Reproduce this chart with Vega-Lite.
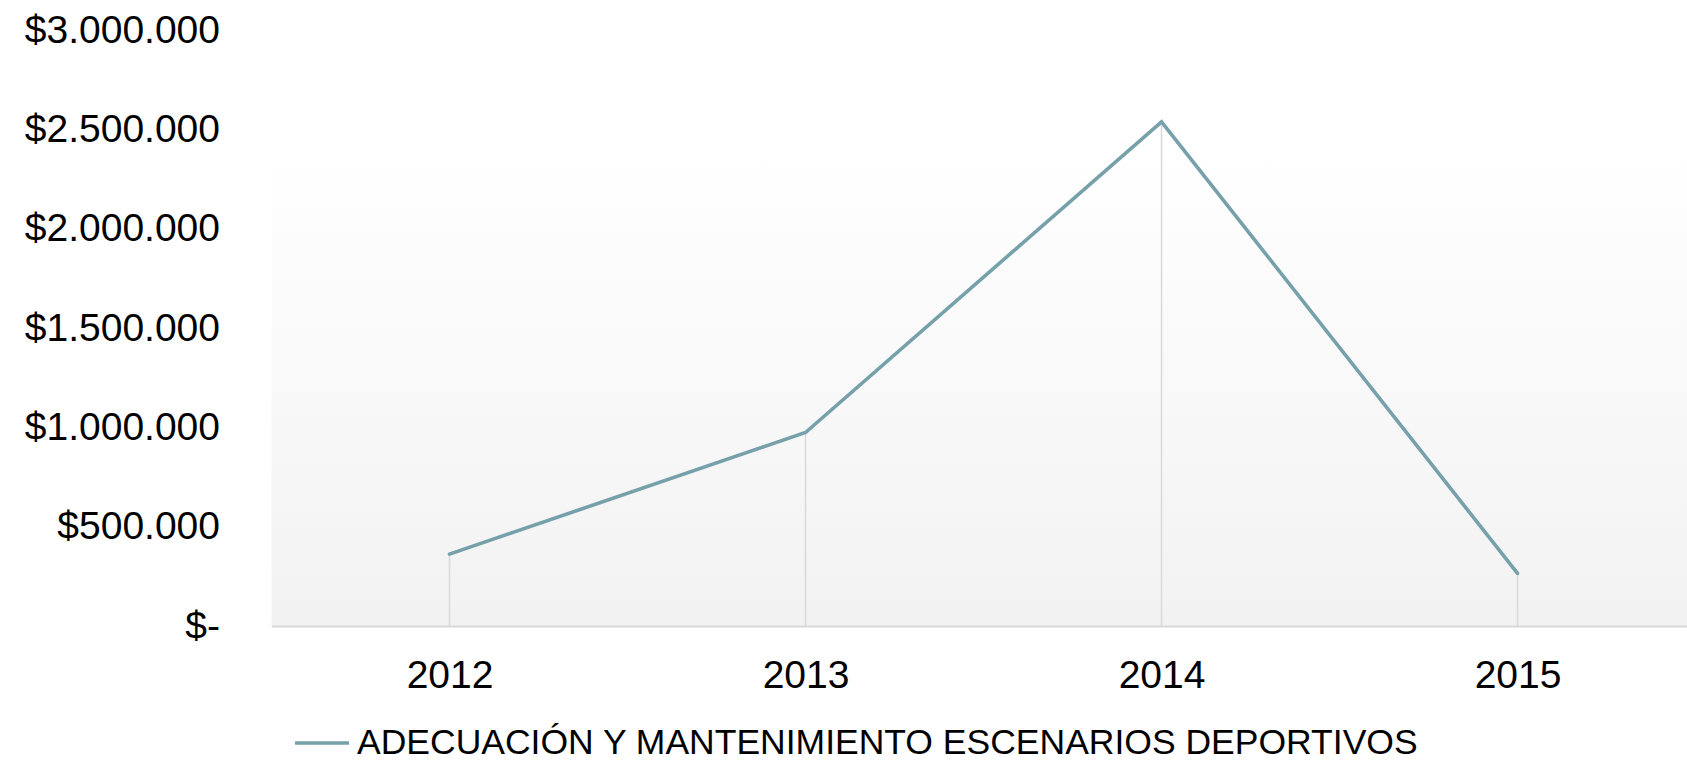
{
  "$schema": "https://vega.github.io/schema/vega-lite/v6.json",
  "autosize": {"type": "none"},
  "width": 1415.5,
  "height": 596,
  "padding": {"left": 271.5, "top": 30, "right": 0, "bottom": 135},
  "background": "#ffffff",
  "config": {
    "locale": {"number": {"decimal": ",", "thousands": ".", "grouping": [3], "currency": ["$", ""]}},
    "font": "Liberation Sans",
    "view": {
      "stroke": null,
      "fill": {"gradient": "linear", "x1": 0, "y1": 0, "x2": 0, "y2": 1,
        "stops": [{"offset": 0, "color": "#ffffff"}, {"offset": 0.2, "color": "#ffffff"}, {"offset": 1, "color": "#f2f2f2"}]}
    }
  },
  "data": {"values": [
    {"year": 2012, "value": 362000, "serie": "ADECUACIÓN Y MANTENIMIENTO ESCENARIOS DEPORTIVOS"},
    {"year": 2013, "value": 974000, "serie": "ADECUACIÓN Y MANTENIMIENTO ESCENARIOS DEPORTIVOS"},
    {"year": 2014, "value": 2538000, "serie": "ADECUACIÓN Y MANTENIMIENTO ESCENARIOS DEPORTIVOS"},
    {"year": 2015, "value": 265000, "serie": "ADECUACIÓN Y MANTENIMIENTO ESCENARIOS DEPORTIVOS"}
  ]},
  "encoding": {
    "x": {"field": "year", "type": "quantitative",
      "scale": {"domain": [2011.5, 2015.476], "nice": false, "zero": false},
      "axis": {"title": null, "values": [2012, 2013, 2014, 2015], "format": "d",
        "grid": false, "ticks": false, "domain": true, "domainColor": "#d9d9d9", "domainWidth": 2,
        "labelFont": "Liberation Sans", "labelFontSize": 39, "labelColor": "#000000",
        "labelPadding": 30, "labelFlush": false}},
    "y": {"field": "value", "type": "quantitative",
      "scale": {"domain": [0, 3000000], "nice": false},
      "axis": {"title": null, "values": [0, 500000, 1000000, 1500000, 2000000, 2500000, 3000000],
        "grid": false, "ticks": false, "domain": false,
        "labelExpr": "datum.value == 0 ? '$-\u00a0\u00a0' : format(datum.value, '$,.0f')",
        "labelFont": "Liberation Sans", "labelFontSize": 39, "labelColor": "#000000",
        "labelPadding": 52, "labelFlush": false, "labelLimit": 400}}
  },
  "layer": [
    {
      "mark": {"type": "rule", "color": "#d9d9d9", "strokeWidth": 1.5},
      "encoding": {"y2": {"datum": 0}}
    },
    {
      "mark": {"type": "line", "strokeWidth": 3.6, "strokeCap": "round", "strokeJoin": "miter"},
      "encoding": {
        "color": {"field": "serie", "type": "nominal",
          "scale": {"range": ["#76a0aa"]},
          "legend": {"title": null, "orient": "none", "legendX": 21.5, "legendY": 684,
            "symbolType": "stroke", "symbolSize": 2900, "symbolStrokeWidth": 3.6,
            "labelFont": "Liberation Sans", "labelFontSize": 35.5, "labelColor": "#000000",
            "labelOffset": 6, "labelLimit": 2000}}
      }
    }
  ]
}
